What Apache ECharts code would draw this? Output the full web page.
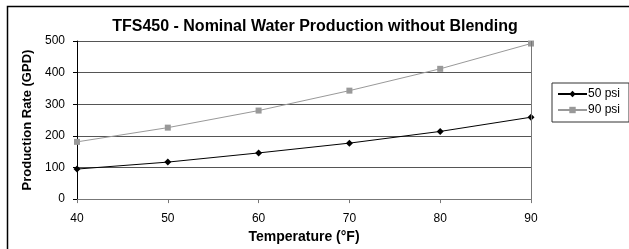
<!DOCTYPE html>
<html>
<head>
<meta charset="utf-8">
<script src="https://cdn.jsdelivr.net/npm/echarts@6/dist/echarts.min.js"></script>
<style>
html,body{margin:0;padding:0;background:#fff;}
#c{width:629px;height:249px;}
</style>
</head>
<body>
<div id="c"></div>
<script>
var temperatures = [40, 50, 60, 70, 80, 90];
var psi50 = [95, 117, 146, 177, 214, 259];
var psi90 = [181, 226, 280, 343, 412, 492];
var seriesNames = ['50 psi', '90 psi'];
var yTicks = [0, 100, 200, 300, 400, 500];

var chart = echarts.init(document.getElementById('c'), null, {renderer: 'canvas'});
var font = 'Liberation Sans, Arial, sans-serif';
chart.setOption({
  animation: false,
  backgroundColor: '#fff',
  graphic: [
    {type: 'rect', shape: {x: 7.5, y: 6.5, width: 640, height: 260}, style: {fill: 'none', stroke: '#000', lineWidth: 1.5}, z: -1}
  ],
  title: {
    text: 'TFS450 - Nominal Water Production without Blending',
    left: 310, top: 14, textAlign: 'center',
    textStyle: {fontFamily: font, fontSize: 16, fontWeight: 'bold', color: '#000'}
  },
  legend: {
    data: [{name: seriesNames[0]}, {name: seriesNames[1]}],
    orient: 'vertical',
    left: 552, top: 83,
    padding: [5, 9, 6, 5],
    itemGap: 4,
    itemWidth: 29, itemHeight: 8,
    borderColor: '#333', borderWidth: 1,
    textStyle: {fontFamily: font, fontSize: 12, color: '#000', padding: [0, 0, 0, -4]}
  },
  grid: {left: 77, right: 98, top: 41, bottom: 48},
  xAxis: {
    type: 'value', min: 40, max: 90, interval: 10,
    name: 'Temperature (°F)', nameLocation: 'middle', nameGap: 30,
    nameTextStyle: {fontFamily: font, fontSize: 14, fontWeight: 'bold', color: '#000'},
    axisLine: {lineStyle: {color: '#777', width: 1}},
    axisTick: {show: true, length: 4, lineStyle: {color: '#777'}},
    axisLabel: {fontFamily: font, fontSize: 12, color: '#000', margin: 14},
    splitLine: {show: false}
  },
  yAxis: {
    type: 'value', min: yTicks[0], max: yTicks[yTicks.length - 1], interval: 100,
    name: 'Production Rate (GPD)', nameLocation: 'middle', nameGap: 36,
    nameTextStyle: {fontFamily: font, fontSize: 13, fontWeight: 'bold', color: '#000'},
    axisLine: {show: true, lineStyle: {color: '#000', width: 1}},
    axisTick: {show: true, length: 4, lineStyle: {color: '#000'}},
    axisLabel: {fontFamily: font, fontSize: 12, color: '#000', margin: 12},
    splitLine: {show: true, lineStyle: {color: '#555', width: 1}}
  },
  series: [
    {
      name: seriesNames[0], type: 'line',
      data: temperatures.map(function (t, i) { return [t, psi50[i]]; }),
      symbol: 'diamond', symbolSize: 7,
      lineStyle: {color: '#000', width: 1},
      itemStyle: {color: '#000'}
    },
    {
      name: seriesNames[1], type: 'line',
      data: temperatures.map(function (t, i) { return [t, psi90[i]]; }),
      symbol: 'rect', symbolSize: 6,
      lineStyle: {color: '#999', width: 1},
      itemStyle: {color: '#999'}
    },
    {
      type: 'line', data: [], markLine: {
        silent: true, symbol: 'none', label: {show: false},
        lineStyle: {color: '#777', type: 'solid', width: 1},
        data: [{xAxis: 90}]
      }
    }
  ]
});
</script>
</body>
</html>
